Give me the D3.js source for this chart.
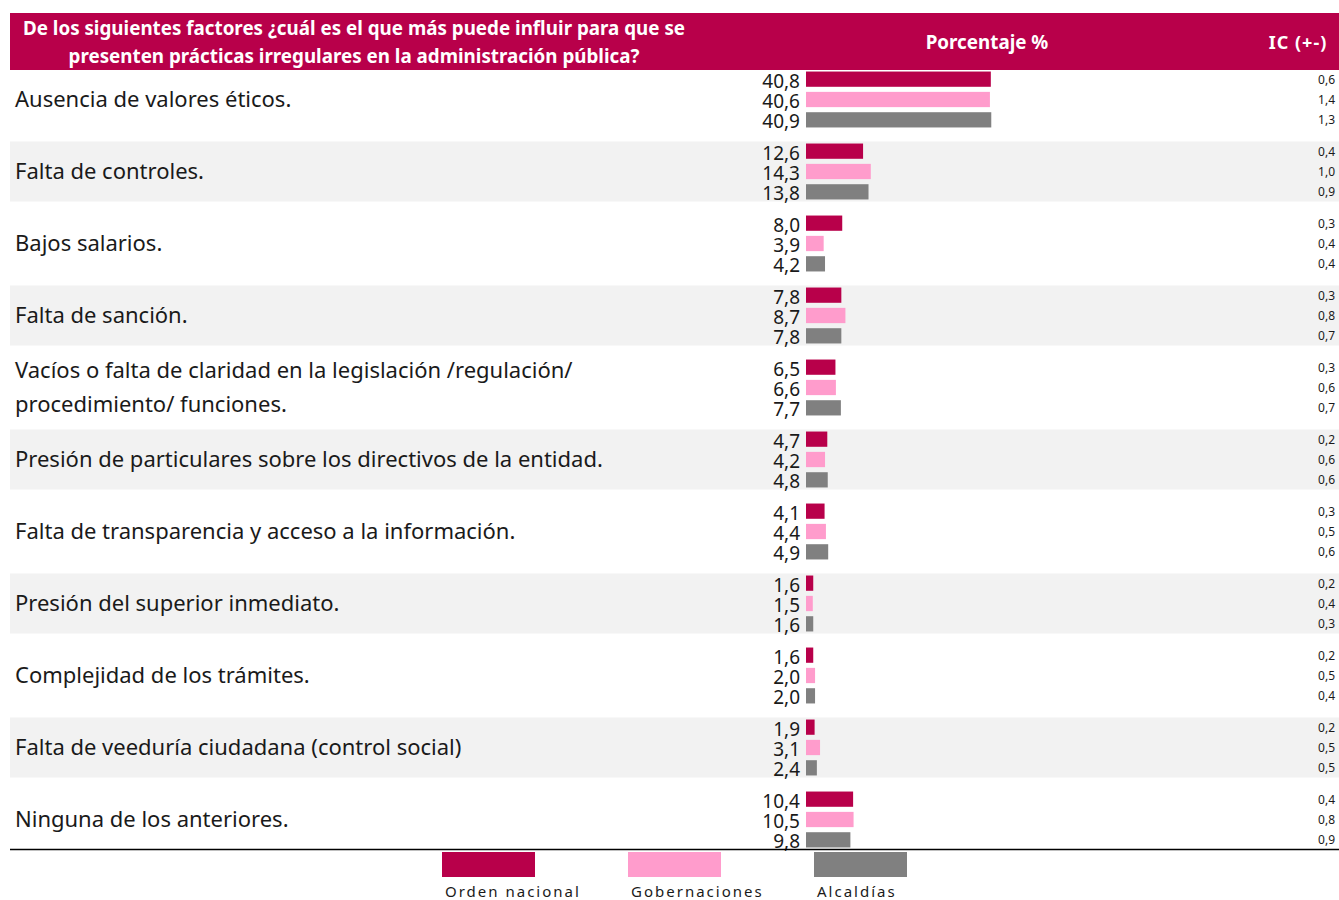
<!DOCTYPE html>
<html>
<head>
<meta charset="utf-8">
<script src="https://cdn.jsdelivr.net/npm/d3@7"></script>
<style>
  body { margin: 0; background: #fff; }
  text { font-family: "Noto Sans", sans-serif; }
</style>
</head>
<body>
<script>
var w = 1339;
var h = 900;

// datos
var categorias = [
  ["Ausencia de valores éticos."],
  ["Falta de controles."],
  ["Bajos salarios."],
  ["Falta de sanción."],
  ["Vacíos o falta de claridad en la legislación /regulación/", "procedimiento/ funciones."],
  ["Presión de particulares sobre los directivos de la entidad."],
  ["Falta de transparencia y acceso a la información."],
  ["Presión del superior inmediato."],
  ["Complejidad de los trámites."],
  ["Falta de veeduría ciudadana (control social)"],
  ["Ninguna de los anteriores."]
];
var series = ["Orden nacional", "Gobernaciones", "Alcaldías"];
var nacional = [40.8, 12.6, 8.0, 7.8, 6.5, 4.7, 4.1, 1.6, 1.6, 1.9, 10.4];
var gobernaciones = [40.6, 14.3, 3.9, 8.7, 6.6, 4.2, 4.4, 1.5, 2.0, 3.1, 10.5];
var alcaldias = [40.9, 13.8, 4.2, 7.8, 7.7, 4.8, 4.9, 1.6, 2.0, 2.4, 9.8];
var icNacional = [0.6, 0.4, 0.3, 0.3, 0.3, 0.2, 0.3, 0.2, 0.2, 0.2, 0.4];
var icGobernaciones = [1.4, 1.0, 0.4, 0.8, 0.6, 0.6, 0.5, 0.4, 0.5, 0.5, 0.8];
var icAlcaldias = [1.3, 0.9, 0.4, 0.7, 0.7, 0.6, 0.6, 0.3, 0.4, 0.5, 0.9];
var titulo = ["De los siguientes factores ¿cuál es el que más puede influir para que se",
              "presenten prácticas irregulares en la administración pública?"];

var colores = ["#b8004a", "#ff9ccc", "#808080"];
var valores = [nacional, gobernaciones, alcaldias];
var ics = [icNacional, icGobernaciones, icAlcaldias];

var fmt = function(v) { return d3.format(".1f")(v).replace(".", ","); };

var svg = d3.select("body")
            .append("svg")
              .attr("width", w)
              .attr("height", h);

var y = d3.scaleBand()
          .domain(d3.range(categorias.length))
          .range([63.5, 855.5]);

var ySub = d3.scaleBand()
             .domain(d3.range(series.length))
             .range([0, 60])
             .paddingInner(0.25)
             .paddingOuter(0.1);

var x = d3.scaleLinear()
          .domain([0, 100])
          .range([806, 806 + 453]);

// franjas grises
svg.selectAll(".franja")
    .data(d3.range(categorias.length).filter(function(i) { return i % 2 == 1; }))
    .enter()
    .append("rect")
      .attr("x", 10)
      .attr("y", function(i) { return y(i) + y.bandwidth() / 2 - 30; })
      .attr("width", w - 10)
      .attr("height", 60)
      .attr("fill", "#f2f2f2");

// encabezado
svg.append("rect")
    .attr("x", 10).attr("y", 13)
    .attr("width", w - 10).attr("height", 57)
    .attr("fill", "#b8004a");

svg.selectAll(".titulo")
    .data(titulo)
    .enter()
    .append("text")
      .attr("x", 354)
      .attr("y", function(d, i) { return 34.5 + i * 28; })
      .attr("text-anchor", "middle")
      .attr("fill", "#fff")
      .style("font-size", "18.8px")
      .style("font-weight", "bold")
      .text(function(d) { return d; });

svg.append("text")
    .attr("x", 987).attr("y", 48.5)
    .attr("text-anchor", "middle")
    .attr("fill", "#fff")
    .style("font-size", "18.8px")
    .style("font-weight", "bold")
    .text("Porcentaje %");

svg.append("text")
    .attr("x", 1298).attr("y", 48.5)
    .attr("text-anchor", "middle")
    .attr("fill", "#fff")
    .style("font-size", "18px")
    .style("font-weight", "bold")
    .style("letter-spacing", "1px")
    .text("IC (+-)");

// grupos
var grupo = svg.selectAll(".grupo")
    .data(categorias)
    .enter()
    .append("g")
      .attr("class", "grupo")
      .attr("transform", function(d, i) { return "translate(0," + (y(i) + y.bandwidth() / 2 - 30) + ")"; });

grupo.each(function(lineas, i) {
  var g = d3.select(this);
  lineas.forEach(function(l, k) {
    g.append("text")
      .attr("x", 15)
      .attr("y", 30 + (k - (lineas.length - 1) / 2) * 34)
      .attr("dy", "0.35em")
      .attr("fill", "#1a1a1a")
      .style("font-size", "22px")
      .text(l);
  });

  series.forEach(function(s, j) {
    var v = valores[j][i];
    g.append("rect")
      .attr("x", x(0))
      .attr("y", ySub(j))
      .attr("width", x(v) - x(0))
      .attr("height", ySub.bandwidth())
      .attr("fill", colores[j]);

    g.append("text")
      .attr("x", 800)
      .attr("y", ySub(j) + ySub.bandwidth() / 2)
      .attr("dy", "0.45em")
      .attr("text-anchor", "end")
      .attr("fill", "#1a1a1a")
      .style("font-size", "19px")
      .text(fmt(v));

    g.append("text")
      .attr("x", 1335)
      .attr("y", ySub(j) + ySub.bandwidth() / 2)
      .attr("dy", "0.38em")
      .attr("text-anchor", "end")
      .attr("fill", "#1a1a1a")
      .style("font-size", "12px")
      .text(fmt(ics[j][i]));
  });
});

// linea inferior
svg.append("line")
    .attr("x1", 10).attr("x2", w)
    .attr("y1", 849.5).attr("y2", 849.5)
    .attr("stroke", "#000")
    .attr("stroke-width", 1.5);

// leyenda
var leyendaX = d3.scalePoint()
                 .domain(series)
                 .range([442, 814]);

var ley = svg.selectAll(".ley")
    .data(series)
    .enter()
    .append("g")
      .attr("transform", function(d) { return "translate(" + leyendaX(d) + ",852)"; });

ley.append("rect")
    .attr("width", 93)
    .attr("height", 25)
    .attr("fill", function(d, i) { return colores[i]; });

ley.append("text")
    .attr("x", 3)
    .attr("y", 45)
    .attr("fill", "#1a1a1a")
    .style("font-size", "15px")
    .style("letter-spacing", "2px")
    .text(function(d) { return d; });
</script>
</body>
</html>
